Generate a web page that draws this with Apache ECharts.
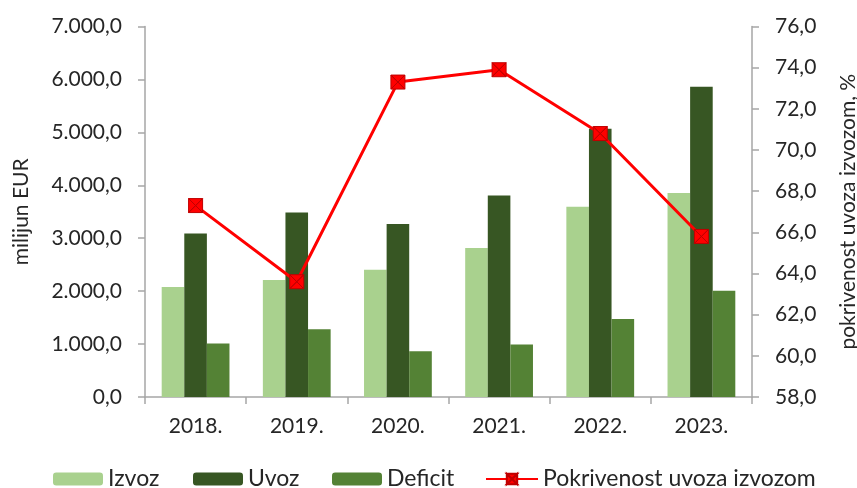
<!DOCTYPE html>
<html>
<head>
<meta charset="utf-8">
<script src="https://cdn.jsdelivr.net/npm/echarts@6/dist/echarts.min.js"></script>
<style>
  html, body { margin: 0; padding: 0; background: #fff; }
  #chart { width: 857px; height: 488px; }
</style>
</head>
<body>
<div id="chart"></div>
<script>
// Years shown on the category axis
const years = ['2018.', '2019.', '2020.', '2021.', '2022.', '2023.'];
// Values in million EUR
const izvoz = [2078, 2210, 2405, 2815, 3595, 3854];
const uvoz = [3091, 3488, 3268, 3809, 5069, 5862];
const deficit = [1013, 1278, 863, 994, 1474, 2008];
// Import coverage by exports, %
const pokrivenost = [67.3, 63.6, 73.3, 73.9, 70.8, 65.8];

const FONT = 'Lato';
const SIZE = 21;
const fmt = (v, d) => {
  const parts = v.toFixed(d).split('.');
  const intPart = parts[0].replace(/\B(?=(\d{3})+(?!\d))/g, '.');
  return parts.length > 1 ? intPart + ',' + parts[1] : intPart;
};

// Square marker split into four triangles so the outline shows an X
const crossBox = 'path://M0,0L10,0L5,5Z M10,0L10,10L5,5Z M10,10L0,10L5,5Z M0,10L0,0L5,5Z';

const axisGrey = '#a6a6a6';
const textColor = '#262626';

// One legend block per entry so each sits at its own spot along the bottom
const legendNames = ['Izvoz', 'Uvoz', 'Deficit', 'Pokrivenost uvoza izvozom'];
const legendLeft = [53, 193, 332, 485];
const legends = legendNames.map((n, i) => ({
  bottom: -4,
  left: legendLeft[i],
  padding: 0,
  itemWidth: i === 3 ? 52 : 50,
  itemHeight: 13,
  textStyle: { fontFamily: FONT, fontSize: 23, color: textColor, lineHeight: 26 },
  data: [n]
}));

const chart = echarts.init(document.getElementById('chart'), null, { renderer: 'canvas' });
chart.setOption({
  animation: false,
  textStyle: { fontFamily: FONT },
  grid: { left: 145, right: 105, top: 26.5, bottom: 91, containLabel: false, outerBoundsMode: 'none' },
  legend: legends,
  xAxis: {
    type: 'category',
    data: years,
    axisLine: { lineStyle: { color: axisGrey, width: 1.5 } },
    axisTick: { show: true, length: 7, lineStyle: { color: axisGrey, width: 1.5 } },
    axisLabel: { fontFamily: FONT, fontSize: SIZE, color: textColor, margin: 19 }
  },
  yAxis: [
    {
      type: 'value',
      min: 0, max: 7000, interval: 1000,
      name: 'milijun EUR',
      nameLocation: 'middle',
      nameRotate: 90,
      nameGap: 113,
      nameTextStyle: { fontFamily: FONT, fontSize: SIZE, color: textColor },
      axisLine: { show: true, lineStyle: { color: axisGrey, width: 1.5 } },
      axisTick: { show: true, length: 7, lineStyle: { color: axisGrey, width: 1.5 } },
      splitLine: { show: false },
      axisLabel: { fontFamily: FONT, fontSize: SIZE, color: textColor, margin: 23, formatter: v => fmt(v, 1) }
    },
    {
      type: 'value',
      min: 58, max: 76, interval: 2,
      position: 'right',
      name: 'pokrivenost uvoza izvozom, %',
      nameLocation: 'middle',
      nameRotate: 90,
      nameGap: 86,
      nameTextStyle: { fontFamily: FONT, fontSize: SIZE, color: textColor },
      axisLine: { show: true, lineStyle: { color: axisGrey, width: 1.5 } },
      axisTick: { show: true, length: 7, lineStyle: { color: axisGrey, width: 1.5 } },
      splitLine: { show: false },
      axisLabel: { fontFamily: FONT, fontSize: SIZE, color: textColor, margin: 23, formatter: v => fmt(v, 1) }
    }
  ],
  series: [
    {
      name: 'Izvoz', type: 'bar', data: izvoz, yAxisIndex: 0,
      barGap: '0%', barCategoryGap: '33%',
      itemStyle: { color: '#a9d18e' }
    },
    {
      name: 'Uvoz', type: 'bar', data: uvoz, yAxisIndex: 0,
      barGap: '0%', barCategoryGap: '33%',
      itemStyle: { color: '#375623' }
    },
    {
      name: 'Deficit', type: 'bar', data: deficit, yAxisIndex: 0,
      barGap: '0%', barCategoryGap: '33%',
      itemStyle: { color: '#548235' }
    },
    {
      name: 'Pokrivenost uvoza izvozom', type: 'line', data: pokrivenost, yAxisIndex: 1,
      symbol: crossBox, symbolSize: 14,
      lineStyle: { color: '#ff0000', width: 3 },
      itemStyle: { color: '#ff0000', borderColor: '#c00000', borderWidth: 1 },
      z: 5
    }
  ]
});
</script>
</body>
</html>
